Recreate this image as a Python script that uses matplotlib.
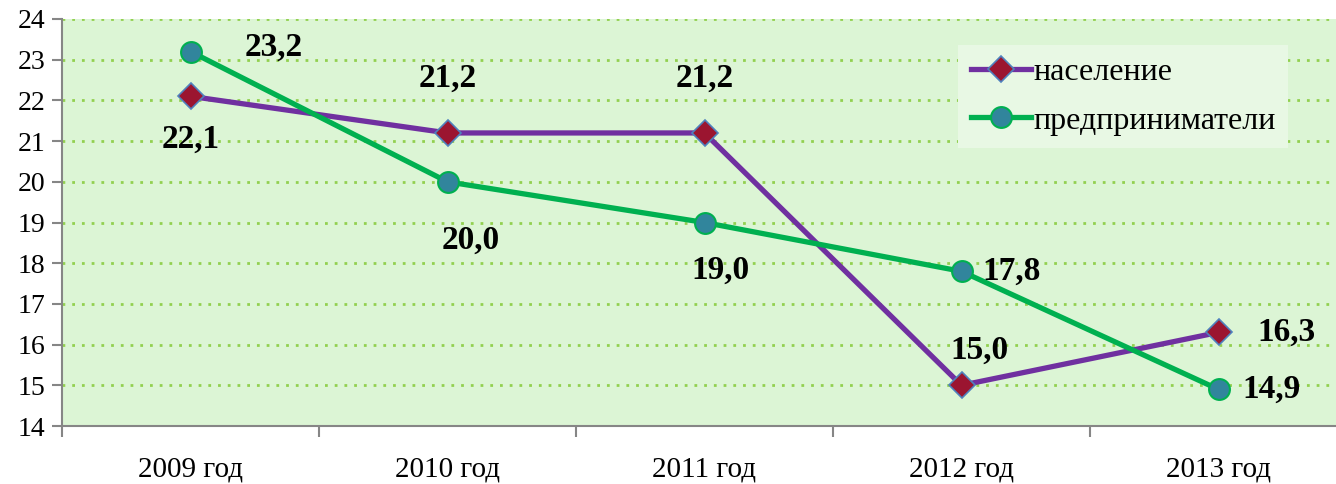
import numpy as np
import matplotlib.pyplot as plt
from matplotlib.ticker import FixedLocator

plt.rcParams["font.family"] = ["Liberation Serif", "DejaVu Serif"]

# data
years = ["2009 год", "2010 год", "2011 год", "2012 год", "2013 год"]
naselenie = [22.1, 21.2, 21.2, 15.0, 16.3]
predprin = [23.2, 20.0, 19.0, 17.8, 14.9]
label_nas = ["22,1", "21,2", "21,2", "15,0", "16,3"]
label_pre = ["23,2", "20,0", "19,0", "17,8", "14,9"]

# label offsets in pixels (dx, dy)
off_nas = [(0, -43), (0, 55), (0, 55), (18, 35), (68, 0)]
off_pre = [(83, 4), (23, -58), (16, -48), (50, 0), (53, 0)]

fig = plt.figure(figsize=(13.36, 4.84), dpi=100)
ax = fig.add_axes([62 / 1336, 1 - 426 / 484, 1 - 62 / 1336, (426 - 19) / 484])
ax.set_facecolor("#DCF5D5")

x = np.arange(len(years))
ax.plot(x, naselenie, color="#7030A0", lw=3.8, marker="D", ms=13,
        mfc="#9B1530", mec="#4F81BD", mew=1.2, label="население", zorder=3)
ax.plot(x, predprin, color="#00B050", lw=3.8, marker="o", ms=15,
        mfc="#31859C", mec="#00B050", mew=1.5, label="предприниматели", zorder=3)

for xi, v, t, (dx, dy) in zip(x, naselenie, label_nas, off_nas):
    ax.annotate(t, (xi, v), xytext=(dx, dy), textcoords="offset pixels",
                ha="center", va="center", fontsize=24, fontweight="bold")
for xi, v, t, (dx, dy) in zip(x, predprin, label_pre, off_pre):
    ax.annotate(t, (xi, v), xytext=(dx, dy), textcoords="offset pixels",
                ha="center", va="center", fontsize=24, fontweight="bold")

ax.set_ylim(14, 24)
ax.set_yticks(range(14, 25))
ax.set_xlim(-0.5, (1336 - 62) / 257 - 0.5)
ax.set_xticks(x)
ax.set_xticklabels(years, fontsize=21)
ax.xaxis.set_minor_locator(FixedLocator(np.arange(-0.5, 5, 1)))
ax.tick_params(axis="x", which="major", length=0, pad=22)
ax.tick_params(axis="x", which="minor", length=8, color="#868686", width=1.5)
ax.tick_params(axis="y", labelsize=20, length=7, color="#868686", width=1.5, pad=5)

ax.grid(axis="y", color="#92D050", ls=(0, (1, 2.5)), lw=2)
ax.set_axisbelow(True)
for s in ["top", "right"]:
    ax.spines[s].set_visible(False)
for s in ["left", "bottom"]:
    ax.spines[s].set_color("#868686")
    ax.spines[s].set_linewidth(1.5)

leg = ax.legend(loc="upper left", fontsize=23, frameon=True,
                fancybox=False, handlelength=1.9, handletextpad=0.05,
                borderpad=0.4, labelspacing=0.6, borderaxespad=0)
leg.set_bbox_to_anchor((958 / 1336, 1 - 45 / 484), transform=fig.transFigure)
leg.get_frame().set_facecolor("#E8F8E4")
leg.get_frame().set_edgecolor("none")
leg.get_frame().set_alpha(1)

fig.savefig("out.png", dpi=100)
